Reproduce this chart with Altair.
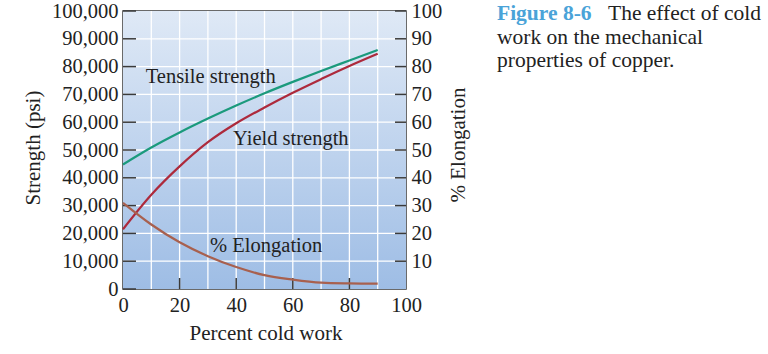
import altair as alt
import pandas as pd

# ---------------- data ----------------
cold_work = [0, 10, 20, 30, 40, 50, 60, 70, 80, 90]
tensile = [44800, 50900, 56300, 61300, 66000, 70400, 74500, 78400, 82200, 86000]
yield_strength = [21500, 33900, 44100, 52800, 59600, 65300, 70600, 75500, 80200, 84600]
elongation = [31.0, 23.2, 16.8, 11.8, 7.9, 5.0, 3.4, 2.3, 2.0, 1.9]

x_ticks = [0, 20, 40, 60, 80, 100]
x_minor = [20, 40, 60, 80]
x_grid = [10, 20, 30, 40, 50, 60, 70, 80, 90]
strength_ticks = [0, 10000, 20000, 30000, 40000, 50000, 60000, 70000, 80000, 90000, 100000]
strength_grid = [10000, 20000, 30000, 40000, 50000, 60000, 70000, 80000, 90000]
elong_ticks = [10, 20, 30, 40, 50, 60, 70, 80, 90, 100]

curve_labels = ["Tensile strength", "Yield strength"]
curve_label_x = [31.0, 59.3]
curve_label_y = [74100, 51700]
elong_label = ["% Elongation"]
elong_label_x = [50.6]
elong_label_y = [13.2]

x_title = "Percent cold work"
y_title = "Strength (psi)"
e_title = "% Elongation"

fig_no = "Figure 8-6"
caption_1 = "The effect of cold"
caption_2 = "work on the mechanical\nproperties of copper."

# ---------------- style ----------------
W, H = 283, 278
FONT = "Liberation Serif"
TXT = "#222222"
TICK = "#3a3a3a"
LFS = 20.5
TFS = 21

df = pd.DataFrame({"cold": cold_work, "tensile": tensile,
                   "yield": yield_strength, "elong": elongation})

xscale = alt.Scale(domain=[0, 100], nice=False, zero=False)
yscale = alt.Scale(domain=[0, 100000], nice=False)
escale = alt.Scale(domain=[0, 100], nice=False)

common = dict(grid=False, ticks=False, domain=False, labelFlush=False, labelOverlap=False,
              labelFont=FONT, labelFontSize=LFS, labelColor=TXT, title=None)

x_axis = alt.Axis(values=x_ticks, format="d", labelPadding=22,
                  labelBaseline="alphabetic", **common)
y_axis = alt.Axis(values=strength_ticks, format=",d", labelPadding=5, **common)
e_axis = alt.Axis(orient="right", values=elong_ticks, format="d", labelPadding=5, **common)


def X(field):
    return alt.X(field, type="quantitative", scale=xscale, axis=x_axis)


def Y(field):
    return alt.Y(field, type="quantitative", scale=yscale, axis=y_axis)


def E(field):
    return alt.Y(field, type="quantitative", scale=escale, axis=e_axis)


one = alt.Data(values=[{"k": 1}])

bg = alt.Chart(one).mark_rect(
    fill=alt.LinearGradient(
        gradient="linear", x1=0, y1=0, x2=0, y2=1,
        stops=[alt.GradientStop(color="#dfe9f6", offset=0),
               alt.GradientStop(color="#9ebde5", offset=1)])
).encode(x=alt.value(0), x2=alt.value(W), y=alt.value(0), y2=alt.value(H))

xgrid = alt.Chart(pd.DataFrame({"g": x_grid})).mark_rule(
    color="white", strokeWidth=1.3
).encode(x=X("g"))

ygrid = alt.Chart(pd.DataFrame({"g": strength_grid})).mark_rule(
    color="white", strokeWidth=1.3
).encode(y=Y("g"))

left_ticks = alt.Chart(pd.DataFrame({"t": strength_ticks})).mark_rule(
    color=TICK, strokeWidth=1.5
).encode(y=Y("t"), x=alt.value(0), x2=alt.value(13))

bottom_ticks = alt.Chart(pd.DataFrame({"t": x_minor})).mark_rule(
    color=TICK, strokeWidth=1.5
).encode(x=X("t"), y=alt.value(H - 11), y2=alt.value(H))

base = alt.Chart(df)

tensile_line = base.mark_line(color="#1b9a7c", strokeWidth=2.2, interpolate="monotone").encode(
    x=X("cold"), y=Y("tensile"))

yield_line = base.mark_line(color="#ad2a3c", strokeWidth=2.2, interpolate="monotone").encode(
    x=X("cold"), y=Y("yield"))

curve_text = alt.Chart(pd.DataFrame({"label": curve_labels, "x": curve_label_x, "y": curve_label_y})).mark_text(
    font=FONT, fontSize=LFS, color=TXT, align="center", baseline="alphabetic"
).encode(x=X("x"), y=Y("y"), text="label:N")


def note(text, x, y, size=TFS, angle=0, baseline="alphabetic", align="center",
         color=TXT, weight="normal", **kw):
    return alt.Chart(one).mark_text(
        font=FONT, fontSize=size, color=color, align=align, baseline=baseline,
        angle=angle, fontWeight=weight, **kw
    ).encode(x=alt.value(x), y=alt.value(y), text=alt.value(text))


x_title_mark = note(x_title, 143, 329)
y_title_mark = note(y_title, -89, 137, angle=270, baseline="middle")
e_title_mark = note(e_title, 336, 134, angle=270, baseline="middle")

cap_fig = note(fig_no, 374, 9, size=21.5, align="left", color="#4aa3d8", weight="bold")
cap_1 = note(caption_1, 485, 9, size=21.5, align="left")
cap_2 = note(caption_2, 374, 32.5, size=21.5, align="left", lineBreak="\n", lineHeight=23.5)

strength = alt.layer(bg, xgrid, ygrid, tensile_line, yield_line, curve_text,
                     left_ticks, bottom_ticks, x_title_mark, y_title_mark, e_title_mark,
                     cap_fig, cap_1, cap_2)

elong_line = base.mark_line(color="#a8604e", strokeWidth=2.2, interpolate="monotone").encode(
    x=X("cold"), y=E("elong"))

right_ticks = alt.Chart(pd.DataFrame({"t": elong_ticks})).mark_rule(
    color=TICK, strokeWidth=1.5
).encode(y=E("t"), x=alt.value(W - 11), x2=alt.value(W))

elong_text = alt.Chart(pd.DataFrame({"label": elong_label, "x": elong_label_x, "y": elong_label_y})).mark_text(
    font=FONT, fontSize=LFS, color=TXT, align="center", baseline="alphabetic"
).encode(x=X("x"), y=E("y"), text="label:N")

elong = alt.layer(elong_line, elong_text, right_ticks)

chart = alt.layer(strength, elong).resolve_scale(y="independent").properties(
    width=W, height=H,
    padding={"left": 123, "top": 11, "right": 768 - 123 - W, "bottom": 354 - 11 - H},
    autosize=alt.AutoSizeParams(type="none"),
    background="white",
).configure_axis(
    labelFont=FONT, labelFontSize=LFS, labelColor=TXT,
    labelOverlap=False, labelFlush=False, ticks=False, domain=False, grid=False,
).configure_view(stroke=TICK, strokeWidth=1.5)

chart.save("out.html", embed_options={"renderer": "svg", "actions": False})
